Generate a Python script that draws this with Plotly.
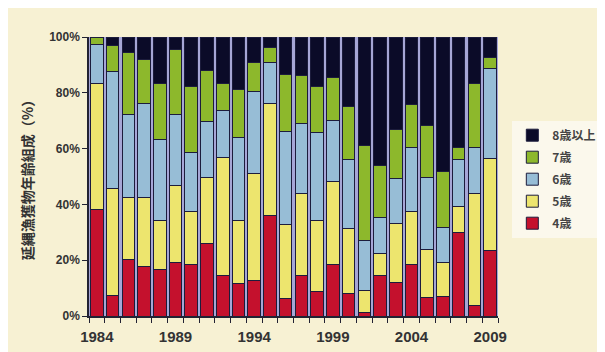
import plotly.graph_objects as go

years = list(range(1984, 2010))
age4 = [38.3, 7.4, 20.1, 17.9, 16.7, 19.3, 18.3, 26.1, 14.4, 11.7, 12.9, 36.2, 6.3,
        14.6, 8.7, 18.3, 7.9, 1.4, 14.5, 12.0, 18.3, 6.7, 6.9, 29.9, 3.9, 23.3]
age5 = [45.2, 38.4, 22.5, 24.7, 17.5, 27.4, 19.1, 23.4, 42.3, 22.5, 38.3, 39.9, 26.6,
        29.2, 25.7, 29.9, 23.3, 7.7, 8.0, 21.3, 19.1, 17.0, 12.2, 9.3, 39.9, 33.0]
age6 = [13.7, 41.9, 29.5, 33.5, 29.0, 25.4, 21.3, 20.1, 17.0, 29.8, 29.3, 14.9, 33.2,
        25.3, 31.2, 21.9, 25.0, 17.8, 12.9, 16.1, 23.1, 25.9, 12.5, 16.8, 16.7, 32.3]
age7 = [2.8, 9.2, 22.2, 15.8, 20.1, 23.4, 23.4, 18.3, 9.6, 17.1, 10.2, 5.4, 20.6,
        17.1, 16.7, 15.5, 18.9, 34.1, 18.5, 17.6, 15.2, 18.6, 20.2, 4.4, 23.0, 4.1]
age8 = [0.0, 3.1, 5.7, 8.1, 16.7, 4.5, 17.9, 12.1, 16.7, 18.9, 9.3, 3.6, 13.3,
        13.8, 17.7, 14.4, 24.9, 39.0, 46.1, 33.0, 24.3, 31.8, 48.2, 39.6, 16.5, 7.3]

series = [
    ("4歳", age4, "#c4112d"),
    ("5歳", age5, "#ede56e"),
    ("6歳", age6, "#97bdd6"),
    ("7歳", age7, "#8db82c"),
    ("8歳以上", age8, "#0b0b28"),
]

label_years = [1984, 1989, 1994, 1999, 2004, 2009]
y_ticks = [0, 20, 40, 60, 80, 100]
y_labels = ["0%", "20%", "40%", "60%", "80%", "100%"]

fig = go.Figure()
n = len(series)
for i, (name, vals, col) in enumerate(series):
    fig.add_trace(go.Bar(
        x=years, y=vals, name=name, legendgroup=name, legendrank=n - i,
        marker=dict(color=col, line=dict(color="#1c1c3c", width=1)),
    ))

txt = "#333333"
fig.update_layout(
    barmode="stack",
    barnorm="percent",
    bargap=0.2,
    width=605, height=352,
    margin=dict(l=81, r=92, t=29, b=44),
    paper_bgcolor="#f7f1d3",
    plot_bgcolor="#a6a6d6",
    font=dict(family="Liberation Sans Narrow, Liberation Sans, Arial, sans-serif", color=txt),
    legend=dict(
        x=1.035, y=0.70, xanchor="left", yanchor="top",
        traceorder="grouped",
        tracegroupgap=3,
        bgcolor="#fbf8ec",
        font=dict(family="Liberation Sans Narrow, Noto Sans CJK JP, sans-serif", size=12, color="#444444", weight="bold"),
        itemwidth=30,
    ),
    xaxis=dict(
        range=[1983.5, 2009.5],
        tickvals=label_years,
        ticktext=[str(v) for v in label_years],
        ticks="",
        ticklabelstandoff=6,
        showgrid=False,
        zeroline=False,
        showline=True, linecolor="#222233", linewidth=1.5,
        tickfont=dict(size=15, weight="bold", color=txt),
        minor=dict(tickvals=[y + 0.5 for y in range(1983, 2010)], ticks="outside",
                   ticklen=5, tickcolor="#222233", showgrid=False),
    ),
    yaxis=dict(
        range=[0, 100],
        tickvals=y_ticks, ticktext=y_labels,
        ticks="outside", ticklen=5, tickcolor="#222233",
        showgrid=False, zeroline=False,
        showline=True, linecolor="#222233", linewidth=1.5,
        tickfont=dict(size=12, weight="bold", color=txt),
        title=dict(text="延縄漁獲物年齢組成（%）",
                   font=dict(family="Noto Sans CJK JP, sans-serif", size=14, color=txt, weight="bold"),
                   standoff=12),
    ),
)

fig.write_html("out.html")
